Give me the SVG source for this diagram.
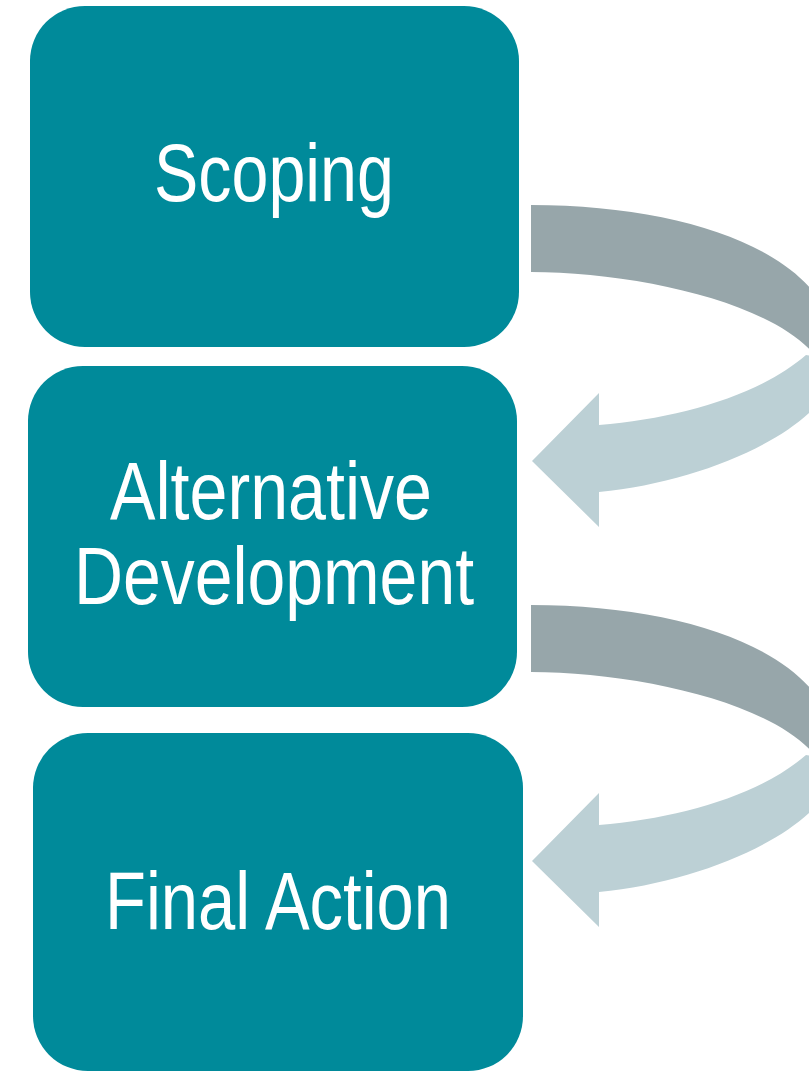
<svg xmlns="http://www.w3.org/2000/svg" width="809" height="1072" viewBox="0 0 809 1072">
  <style>
    .box { fill: #008A9A; }
    .lbl { fill: #FFFFFF; font-family: "Liberation Sans", Arial, sans-serif; font-size: 82px; text-anchor: middle; }
    .dark { fill: #97A6AA; }
    .light { fill: #BCD0D5; }
  </style>
  <defs>
    <g id="curve">
      <path class="dark" d="M531,205 C700,205 835,260 835,350 L812,352 C765,300 630,272 531,272 Z"/>
      <path class="light" d="M838,360 C838,420 720,480 599,492 L599,527 L532,461 L599,393 L599,425 C680,418 760,395 806,355 Z"/>
    </g>
  </defs>
  <g id="connectors">
    <use href="#curve"/>
    <use href="#curve" transform="translate(0,400)"/>
  </g>
  <g id="node-scoping">
    <rect class="box" x="30" y="6" width="489" height="341" rx="55" ry="55"/>
    <text class="lbl" x="274" y="201" textLength="240" lengthAdjust="spacingAndGlyphs">Scoping</text>
  </g>
  <g id="node-alternative">
    <rect class="box" x="28" y="366" width="489" height="341" rx="55" ry="55"/>
    <text class="lbl" x="271" y="519" textLength="322" lengthAdjust="spacingAndGlyphs">Alternative</text>
    <text class="lbl" x="274" y="604" textLength="400" lengthAdjust="spacingAndGlyphs">Development</text>
  </g>
  <g id="node-final">
    <rect class="box" x="33" y="733" width="490" height="338" rx="55" ry="55"/>
    <text class="lbl" x="278" y="929" textLength="346" lengthAdjust="spacingAndGlyphs">Final Action</text>
  </g>
</svg>
